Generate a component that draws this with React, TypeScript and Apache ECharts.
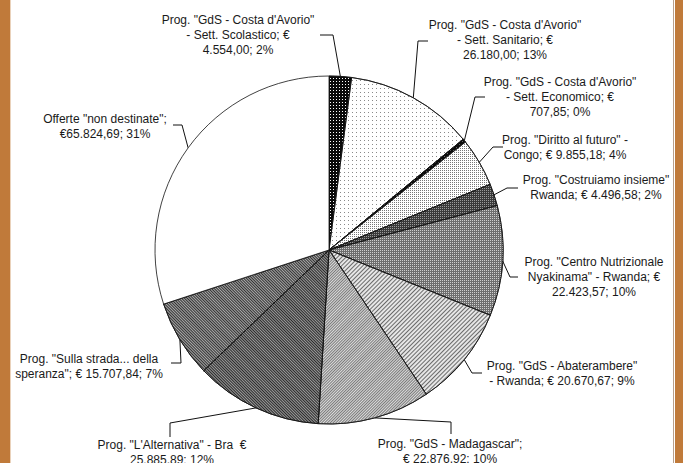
import React, { useEffect, useRef } from 'react';
import * as echarts from 'echarts';

// ---- data ----
const categories = [
  'Prog. "GdS - Costa d\'Avorio" - Sett. Scolastico',
  'Prog. "GdS - Costa d\'Avorio" - Sett. Sanitario',
  'Prog. "GdS - Costa d\'Avorio" - Sett. Economico',
  'Prog. "Diritto al futuro" - Congo',
  'Prog. "Costruiamo insieme" Rwanda',
  'Prog. "Centro Nutrizionale Nyakinama" - Rwanda',
  'Prog. "GdS - Abaterambere" - Rwanda',
  'Prog. "GdS - Madagascar"',
  'Prog. "L\'Alternativa" - Bra',
  'Prog. "Sulla strada... della speranza"',
  'Offerte "non destinate"',
];
const values = [4554.0, 26180.0, 707.85, 9855.18, 4496.58, 22423.57, 20670.67, 22876.92, 25885.89, 15707.84, 65824.69];
const labelTexts = [
  'Prog. "GdS - Costa d\'Avorio"\n- Sett. Scolastico; €\n4.554,00; 2%',
  'Prog. "GdS - Costa d\'Avorio"\n- Sett. Sanitario; €\n26.180,00; 13%',
  'Prog. "GdS - Costa d\'Avorio"\n- Sett. Economico; €\n707,85; 0%',
  'Prog. "Diritto al futuro" -\nCongo; € 9.855,18; 4%',
  'Prog. "Costruiamo insieme"\nRwanda; € 4.496,58; 2%',
  'Prog. "Centro Nutrizionale\nNyakinama" - Rwanda; €\n22.423,57; 10%',
  'Prog. "GdS - Abaterambere"\n- Rwanda; € 20.670,67; 9%',
  'Prog. "GdS - Madagascar";\n€ 22.876,92; 10%',
  'Prog. "L\'Alternativa" - Bra  €\n25.885,89; 12%',
  'Prog. "Sulla strada... della\nsperanza"; € 15.707,84; 7%',
  'Offerte "non destinate";\n€65.824,69; 31%',
];

// ---- styles & layout ----
const dots = (color: string, step: number) => ({
  symbol: 'rect', symbolSize: 1, color, dashArrayX: [1, step], dashArrayY: [1, step],
});
const hatch = (color: string, gap: number, rot: number) => ({
  symbol: 'rect', symbolSize: 1, color, dashArrayX: [1, 0], dashArrayY: [1, gap], rotation: rot,
});
const sliceStyles: any[] = [
  { color: '#0a0a0a', decal: dots('#ffffff', 2) },
  { color: '#ffffff', decal: dots('#8a8a8a', 3) },
  { color: '#0a0a0a', decal: dots('#666666', 2) },
  { color: '#ffffff', decal: dots('#777777', 1) },
  { color: '#3a3a3a', decal: dots('#9a9a9a', 1) },
  { color: '#6e6e6e', decal: dots('#cfcfcf', 1) },
  { color: '#e6e6e6', decal: hatch('#6a6a6a', 2, -Math.PI / 4) },
  { color: '#dcdcdc', decal: hatch('#7a7a7a', 1, -Math.PI / 4) },
  { color: '#9a9a9a', decal: hatch('#2a2a2a', 1, Math.PI / 4) },
  { color: '#a8a8a8', decal: hatch('#333333', 1, Math.PI / 4) },
  { color: '#ffffff' },
];
// label block centre, leader bend point, leader end point (px)
const labelLayouts = [
  { x: 238, y: 35, bend: [333, 35], end: [320, 35] },
  { x: 505, y: 40, bend: [418, 41], end: [428, 41] },
  { x: 560, y: 97, bend: [475, 97], end: [485, 97] },
  { x: 565, y: 147, bend: [493, 147], end: [503, 147] },
  { x: 596, y: 187, bend: [507, 188], end: [518, 188] },
  { x: 594, y: 277, bend: [510, 277], end: [518, 277] },
  { x: 562, y: 373, bend: [472, 373], end: [482, 373] },
  { x: 450, y: 451, bend: [451, 422], end: [451, 434] },
  { x: 172, y: 452, bend: [170, 423], end: [170, 437] },
  { x: 89, y: 366, bend: [181, 363], end: [171, 363] },
  { x: 105, y: 126, bend: [182, 125], end: [173, 125] },
];
const CENTER = [329, 250];
const RADIUS = 174;
const FRAME = '#C07A3A';

export default function App() {
  const ref = useRef<HTMLDivElement>(null);
  useEffect(() => {
    if (!ref.current) return;
    const chart = echarts.init(ref.current, null, { renderer: 'svg' });
    const total = values.reduce((a, b) => a + b, 0);
    const option: any = {
      animation: false,
      backgroundColor: '#ffffff',
      graphic: [
        { type: 'rect', silent: true, shape: { x: 0, y: 0, width: 10, height: 463 }, style: { fill: FRAME } },
        { type: 'rect', silent: true, shape: { x: 10, y: 0, width: 1, height: 463 }, style: { fill: '#ead2bb' } },
        { type: 'rect', silent: true, shape: { x: 673, y: 0, width: 1, height: 463 }, style: { fill: '#b9a08c' } },
        { type: 'rect', silent: true, shape: { x: 675, y: 0, width: 8, height: 463 }, style: { fill: FRAME } },
      ],
      series: [
        {
          type: 'pie',
          center: CENTER,
          radius: RADIUS,
          startAngle: 90,
          clockwise: true,
          avoidLabelOverlap: false,
          minShowLabelAngle: 0,
          itemStyle: { borderColor: '#111', borderWidth: 0.8 },
          label: {
            show: true,
            position: 'outside',
            fontFamily: '"Liberation Sans", Arial, sans-serif',
            fontSize: 12,
            lineHeight: 15,
            color: '#1a1a1a',
            align: 'center',
            formatter: (p: any) => labelTexts[p.dataIndex],
          },
          labelLine: {
            show: true,
            length: 10,
            length2: 10,
            smooth: false,
            lineStyle: { color: '#111', width: 1 },
          },
          labelLayout: (params: any) => {
            const i = params.dataIndex;
            const L = labelLayouts[i];
            let edge: number[];
            if (params.labelLinePoints && params.labelLinePoints[0]) {
              edge = params.labelLinePoints[0];
            } else {
              let cum = 0;
              for (let k = 0; k < i; k++) cum += values[k];
              const mid = ((cum + values[i] / 2) / total) * Math.PI * 2;
              edge = [CENTER[0] + RADIUS * Math.sin(mid), CENTER[1] - RADIUS * Math.cos(mid)];
            }
            return {
              x: L.x,
              y: L.y,
              align: 'center',
              verticalAlign: 'middle',
              labelLinePoints: [edge, L.bend, L.end],
            };
          },
          data: values.map((v, i) => ({
            name: categories[i],
            value: v,
            itemStyle: sliceStyles[i],
          })),
        },
      ],
    };
    chart.setOption(option);
    return () => chart.dispose();
  }, []);
  return (
    <div
      ref={ref}
      style={{ position: 'fixed', left: 0, top: 0, width: 683, height: 463 }}
    />
  );
}
